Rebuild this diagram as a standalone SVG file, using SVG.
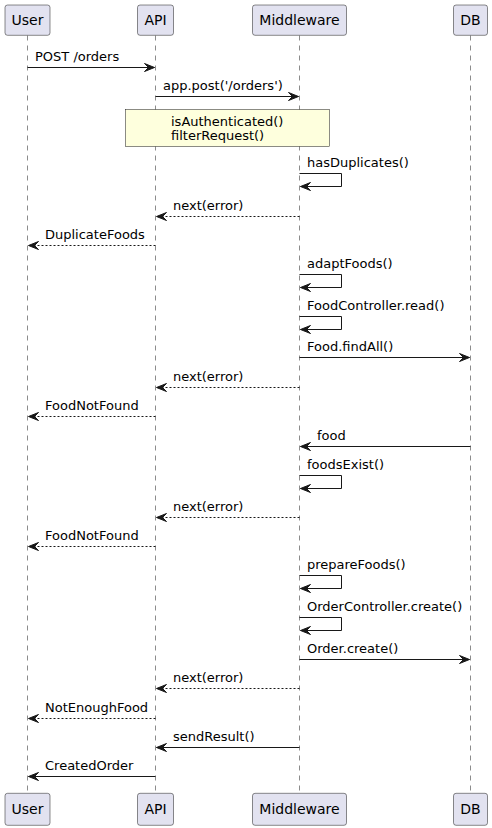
<svg xmlns="http://www.w3.org/2000/svg" width="492" height="828" viewBox="0 0 492 828">
<style>
.box{fill:#E2E2F0;stroke:#181818;stroke-width:0.5}
.life{stroke:#181818;stroke-width:0.5;stroke-dasharray:5,5;fill:none}
.pt{font-family:"DejaVu Sans",sans-serif;font-size:14px;fill:#000;text-anchor:middle}
.mt{font-family:"DejaVu Sans",sans-serif;font-size:13px;fill:#000}
.msg{stroke:#181818;stroke-width:1;fill:none}
.dash{stroke:#181818;stroke-width:1;fill:none;stroke-dasharray:2,2}
.ah{fill:#181818;stroke:#181818;stroke-width:1}
.note{fill:#FEFFDD;stroke:#181818;stroke-width:0.5}
</style>
<g id="lifelines">
<line class="life" x1="27.5" y1="35.5" x2="27.5" y2="793"/>
<line class="life" x1="155.5" y1="35.5" x2="155.5" y2="793"/>
<line class="life" x1="299.5" y1="35.5" x2="299.5" y2="793"/>
<line class="life" x1="470.5" y1="35.5" x2="470.5" y2="793"/>
</g>
<g id="User">
<rect class="box" x="5" y="5" width="45" height="30.3" rx="2.5"/>
<text class="pt" x="27.5" y="25">User</text>
<rect class="box" x="5" y="793.3" width="45" height="32" rx="2.5"/>
<text class="pt" x="27.5" y="814">User</text>
</g>
<g id="API">
<rect class="box" x="137.5" y="5" width="36" height="30.3" rx="2.5"/>
<text class="pt" x="155.5" y="25">API</text>
<rect class="box" x="137.5" y="793.3" width="36" height="32" rx="2.5"/>
<text class="pt" x="155.5" y="814">API</text>
</g>
<g id="Middleware">
<rect class="box" x="252.5" y="5" width="94" height="30.3" rx="2.5"/>
<text class="pt" x="299.5" y="25">Middleware</text>
<rect class="box" x="252.5" y="793.3" width="94" height="32" rx="2.5"/>
<text class="pt" x="299.5" y="814">Middleware</text>
</g>
<g id="DB">
<rect class="box" x="453.5" y="5" width="34" height="30.3" rx="2.5"/>
<text class="pt" x="470.5" y="25">DB</text>
<rect class="box" x="453.5" y="793.3" width="34" height="32" rx="2.5"/>
<text class="pt" x="470.5" y="814">DB</text>
</g>
<g id="note">
<rect class="note" x="125.5" y="109.5" width="204" height="37"/>
<text class="mt" x="171" y="126.3">isAuthenticated()</text>
<text class="mt" x="171" y="139.5">filterRequest()</text>
</g>
<g id="connectors">
<!-- POST /orders -->
<line class="msg" x1="27.5" y1="67.5" x2="154.5" y2="67.5"/>
<polygon class="ah" points="144.5,63.5 154.5,67.5 144.5,71.5 148.5,67.5"/>
<text class="mt" x="35" y="61">POST /orders</text>
<!-- app.post -->
<line class="msg" x1="155.5" y1="96.5" x2="298.5" y2="96.5"/>
<polygon class="ah" points="288.5,92.5 298.5,96.5 288.5,100.5 292.5,96.5"/>
<text class="mt" x="163" y="90">app.post('/orders')</text>
<!-- hasDuplicates -->
<polyline class="msg" points="299.5,173.5 341.5,173.5 341.5,186.5 300.5,186.5"/>
<polygon class="ah" points="310.5,182.5 300.5,186.5 310.5,190.5 306.5,186.5"/>
<text class="mt" x="307" y="167">hasDuplicates()</text>
<!-- next(error) -->
<line class="dash" x1="299.5" y1="216.5" x2="156.5" y2="216.5"/>
<polygon class="ah" points="166.5,212.5 156.5,216.5 166.5,220.5 162.5,216.5"/>
<text class="mt" x="173" y="210">next(error)</text>
<!-- DuplicateFoods -->
<line class="dash" x1="155.5" y1="245.5" x2="28.5" y2="245.5"/>
<polygon class="ah" points="38.5,241.5 28.5,245.5 38.5,249.5 34.5,245.5"/>
<text class="mt" x="45" y="239">DuplicateFoods</text>
<!-- adaptFoods -->
<polyline class="msg" points="299.5,274.5 341.5,274.5 341.5,287.5 300.5,287.5"/>
<polygon class="ah" points="310.5,283.5 300.5,287.5 310.5,291.5 306.5,287.5"/>
<text class="mt" x="307" y="268">adaptFoods()</text>
<!-- FoodController.read -->
<polyline class="msg" points="299.5,316.5 341.5,316.5 341.5,329.5 300.5,329.5"/>
<polygon class="ah" points="310.5,325.5 300.5,329.5 310.5,333.5 306.5,329.5"/>
<text class="mt" x="307" y="310">FoodController.read()</text>
<!-- Food.findAll -->
<line class="msg" x1="299.5" y1="357.5" x2="469.5" y2="357.5"/>
<polygon class="ah" points="459.5,353.5 469.5,357.5 459.5,361.5 463.5,357.5"/>
<text class="mt" x="307" y="351">Food.findAll()</text>
<!-- next(error) -->
<line class="dash" x1="299.5" y1="387.5" x2="156.5" y2="387.5"/>
<polygon class="ah" points="166.5,383.5 156.5,387.5 166.5,391.5 162.5,387.5"/>
<text class="mt" x="173" y="381">next(error)</text>
<!-- FoodNotFound -->
<line class="dash" x1="155.5" y1="416.5" x2="28.5" y2="416.5"/>
<polygon class="ah" points="38.5,412.5 28.5,416.5 38.5,420.5 34.5,416.5"/>
<text class="mt" x="45" y="410">FoodNotFound</text>
<!-- food -->
<line class="msg" x1="470.5" y1="446.5" x2="300.5" y2="446.5"/>
<polygon class="ah" points="310.5,442.5 300.5,446.5 310.5,450.5 306.5,446.5"/>
<text class="mt" x="317" y="440">food</text>
<!-- foodsExist -->
<polyline class="msg" points="299.5,475.5 341.5,475.5 341.5,488.5 300.5,488.5"/>
<polygon class="ah" points="310.5,484.5 300.5,488.5 310.5,492.5 306.5,488.5"/>
<text class="mt" x="307" y="469">foodsExist()</text>
<!-- next(error) -->
<line class="dash" x1="299.5" y1="517.5" x2="156.5" y2="517.5"/>
<polygon class="ah" points="166.5,513.5 156.5,517.5 166.5,521.5 162.5,517.5"/>
<text class="mt" x="173" y="511">next(error)</text>
<!-- FoodNotFound -->
<line class="dash" x1="155.5" y1="546.5" x2="28.5" y2="546.5"/>
<polygon class="ah" points="38.5,542.5 28.5,546.5 38.5,550.5 34.5,546.5"/>
<text class="mt" x="45" y="540">FoodNotFound</text>
<!-- prepareFoods -->
<polyline class="msg" points="299.5,575.5 341.5,575.5 341.5,588.5 300.5,588.5"/>
<polygon class="ah" points="310.5,584.5 300.5,588.5 310.5,592.5 306.5,588.5"/>
<text class="mt" x="307" y="569">prepareFoods()</text>
<!-- OrderController.create -->
<polyline class="msg" points="299.5,617.5 341.5,617.5 341.5,630.5 300.5,630.5"/>
<polygon class="ah" points="310.5,626.5 300.5,630.5 310.5,634.5 306.5,630.5"/>
<text class="mt" x="307" y="611">OrderController.create()</text>
<!-- Order.create -->
<line class="msg" x1="299.5" y1="659.5" x2="469.5" y2="659.5"/>
<polygon class="ah" points="459.5,655.5 469.5,659.5 459.5,663.5 463.5,659.5"/>
<text class="mt" x="307" y="653">Order.create()</text>
<!-- next(error) -->
<line class="dash" x1="299.5" y1="688.5" x2="156.5" y2="688.5"/>
<polygon class="ah" points="166.5,684.5 156.5,688.5 166.5,692.5 162.5,688.5"/>
<text class="mt" x="173" y="682">next(error)</text>
<!-- NotEnoughFood -->
<line class="dash" x1="155.5" y1="718.5" x2="28.5" y2="718.5"/>
<polygon class="ah" points="38.5,714.5 28.5,718.5 38.5,722.5 34.5,718.5"/>
<text class="mt" x="45" y="712">NotEnoughFood</text>
<!-- sendResult -->
<line class="msg" x1="299.5" y1="747.5" x2="156.5" y2="747.5"/>
<polygon class="ah" points="166.5,743.5 156.5,747.5 166.5,751.5 162.5,747.5"/>
<text class="mt" x="173" y="741">sendResult()</text>
<!-- CreatedOrder -->
<line class="msg" x1="155.5" y1="776.5" x2="28.5" y2="776.5"/>
<polygon class="ah" points="38.5,772.5 28.5,776.5 38.5,780.5 34.5,776.5"/>
<text class="mt" x="45" y="770">CreatedOrder</text>
</g>
</svg>
